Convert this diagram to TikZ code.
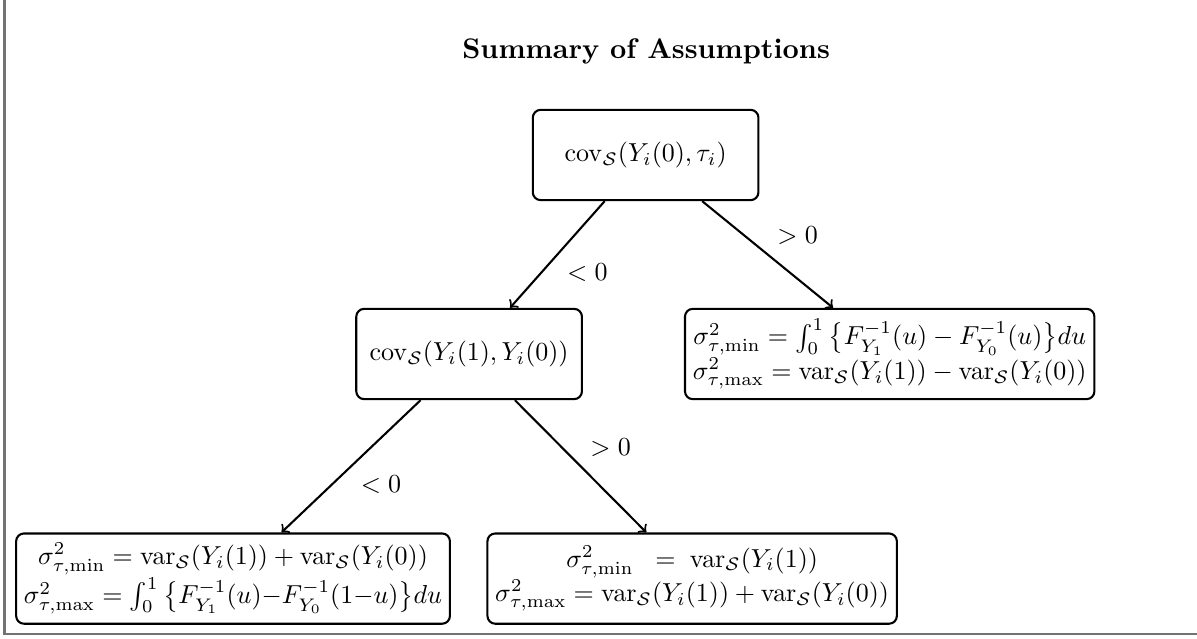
\documentclass[tikz,border=0pt]{standalone}
\usepackage{amsmath,amssymb}
\usepackage{tikz}

\begin{document}
\begin{tikzpicture}[line width=0.8pt,
  box/.style={draw,rounded corners=3pt,inner xsep=3pt,inner ysep=1.5pt,minimum width=3.05cm,minimum height=1.22cm,align=center}]
\useasboundingbox (0,0) rectangle (16.18,8.625);
\draw[black!55] (0.061,8.625)--(0.061,0.054)--(16.18,0.054);
\node[anchor=base] (title) at (8.734,7.828) {\fontsize{10.9pt}{13pt}\selectfont\textbf{Summary of Assumptions}};
\node[box] (c0) at (8.727,6.530) {$\mathrm{cov}_{\mathcal{S}}(Y_i(0),\tau_i)$};
\node[box] (c1) at (6.341,3.840) {$\mathrm{cov}_{\mathcal{S}}(Y_i(1),Y_i(0))$};
\node[box] (l1) at (12.026,3.840) {$\sigma^2_{\tau,\min}=\int_0^1\,\bigl\{F^{-1}_{Y_1}(u)-F^{-1}_{Y_0}(u)\bigr\}du$\\
  $\sigma^2_{\tau,\max}=\mathrm{var}_{\mathcal{S}}(Y_i(1))-\mathrm{var}_{\mathcal{S}}(Y_i(0))$};
\node[box] (l2) at (3.150,0.804) {$\sigma^2_{\tau,\min}=\mathrm{var}_{\mathcal{S}}(Y_i(1))+\mathrm{var}_{\mathcal{S}}(Y_i(0))$\\
  $\sigma^2_{\tau,\max}=\int_0^1\,\bigl\{F^{-1}_{Y_1}(u){-}F^{-1}_{Y_0}(1{-}u)\bigr\}du$};
\node[box] (l3) at (9.356,0.804) {$\sigma^2_{\tau,\min}\;\;=\;\mathrm{var}_{\mathcal{S}}(Y_i(1))$\\
  $\sigma^2_{\tau,\max}=\mathrm{var}_{\mathcal{S}}(Y_i(1))+\mathrm{var}_{\mathcal{S}}(Y_i(0))$};
\draw[->] (c0) -- node[below right] {$<0$} (c1);
\draw[->] (c0) -- node[above right] {$>0$} (l1);
\draw[->] (c1) -- node[below right] {$<0$} (l2);
\draw[->] (c1) -- node[above right] {$>0$} (l3);
\end{tikzpicture}
\end{document}
